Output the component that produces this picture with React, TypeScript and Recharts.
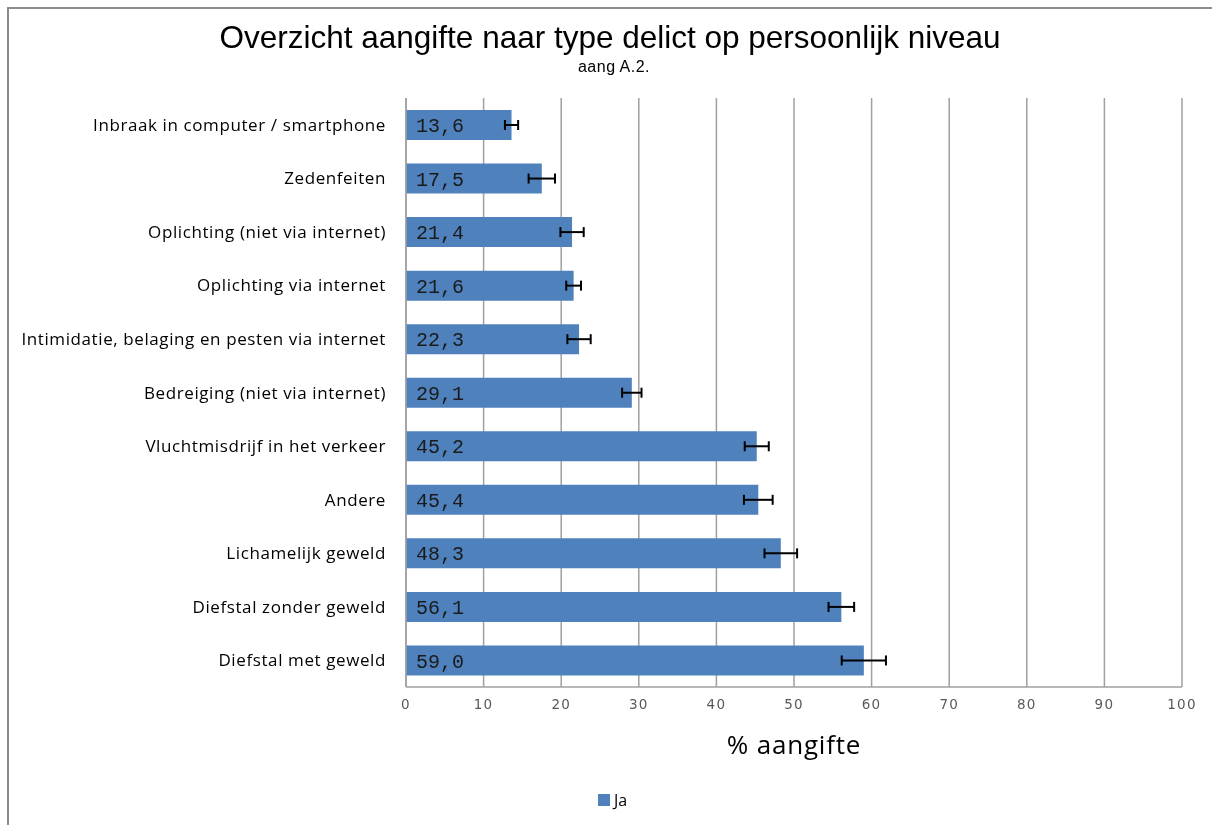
import React from 'react';
import { BarChart, Bar, XAxis, YAxis, CartesianGrid, ErrorBar, LabelList } from 'recharts';

// categories top to bottom, as in the reference
const categories = [
  'Inbraak in computer / smartphone',
  'Zedenfeiten',
  'Oplichting (niet via internet)',
  'Oplichting via internet',
  'Intimidatie, belaging en pesten via internet',
  'Bedreiging (niet via internet)',
  'Vluchtmisdrijf in het verkeer',
  'Andere',
  'Lichamelijk geweld',
  'Diefstal zonder geweld',
  'Diefstal met geweld',
];
const values = [13.6, 17.5, 21.4, 21.6, 22.3, 29.1, 45.2, 45.4, 48.3, 56.1, 59.0];
const errors = [0.85, 1.7, 1.5, 0.95, 1.5, 1.25, 1.55, 1.85, 2.1, 1.65, 2.85];
const xTicks = [0, 10, 20, 30, 40, 50, 60, 70, 80, 90, 100];

const data = categories.map((name, i) => ({ name, ja: values[i], err: errors[i] }));

const BLUE = '#4f81bd';
const GRID = '#a0a0a0';

const fmt = (v: any) => Number(v).toFixed(1).replace('.', ',');

export default function App() {
  return (
    <div style={{ position: 'relative', width: 1204, height: 809, fontFamily: '"Liberation Sans", Arial, sans-serif' }}>
      {/* outer chart frame, only left and top edges are visible */}
      <div
        style={{
          position: 'fixed', left: 7, top: 7, width: 1400, height: 1000,
          borderLeft: '2px solid #8c8c8c', borderTop: '2px solid #8c8c8c', pointerEvents: 'none',
        }}
      />
      <div style={{ position: 'absolute', left: 0, width: 1204, top: 11, textAlign: 'center', fontSize: 31.5, color: '#000' }}>
        Overzicht aangifte naar type delict op persoonlijk niveau
      </div>
      <div style={{ position: 'absolute', left: 4, width: 1204, top: 50, textAlign: 'center', fontSize: 16, letterSpacing: 0.5, color: '#000' }}>
        aang A.2.
      </div>

      <BarChart
        width={1204}
        height={809}
        data={data}
        layout="vertical"
        margin={{ top: 90, right: 30, bottom: 90, left: 0 }}
        barSize={30}
      >
        <CartesianGrid horizontal={false} vertical stroke={GRID} strokeWidth={1.5} />
        <XAxis
          type="number"
          domain={[0, 100]}
          ticks={xTicks}
          interval={0}
          height={40}
          tickSize={0}
          tickMargin={12}
          tickLine={false}
          axisLine={{ stroke: GRID, strokeWidth: 1.5 }}
          tick={{ fill: '#595959', fontSize: 13.5, letterSpacing: 1.2, fontFamily: '"DejaVu Sans", sans-serif' }}
        />
        <YAxis
          type="category"
          dataKey="name"
          width={398}
          interval={0}
          tickSize={0}
          tickMargin={20}
          tickLine={false}
          axisLine={{ stroke: GRID, strokeWidth: 1.5 }}
          tick={{ fill: '#000', fontSize: 17, letterSpacing: 0.6, fontFamily: '"Open Sans", sans-serif' }}
        />
        <Bar dataKey="ja" fill={BLUE} isAnimationActive={false}>
          <LabelList
            dataKey="ja"
            position="insideLeft"
            offset={10}
            formatter={fmt}
            style={{ fill: '#1a1a1a', fontSize: 20, fontFamily: '"Liberation Mono", monospace' }}
          />
          <ErrorBar dataKey="err" direction="x" width={5} stroke="#000" strokeWidth={2} />
        </Bar>
      </BarChart>

      <div style={{ position: 'absolute', left: 398, width: 776, top: 718, textAlign: 'center', fontSize: 26, letterSpacing: 0.8, fontFamily: '"Open Sans", sans-serif', color: '#000' }}>
        % aangifte
      </div>

      <div style={{ position: 'absolute', left: 590, top: 781, display: 'flex', alignItems: 'center', fontSize: 16, fontFamily: '"Open Sans", sans-serif' }}>
        <span style={{ display: 'inline-block', width: 12, height: 12, background: BLUE, marginRight: 4 }} />
        <span>Ja</span>
      </div>
    </div>
  );
}
